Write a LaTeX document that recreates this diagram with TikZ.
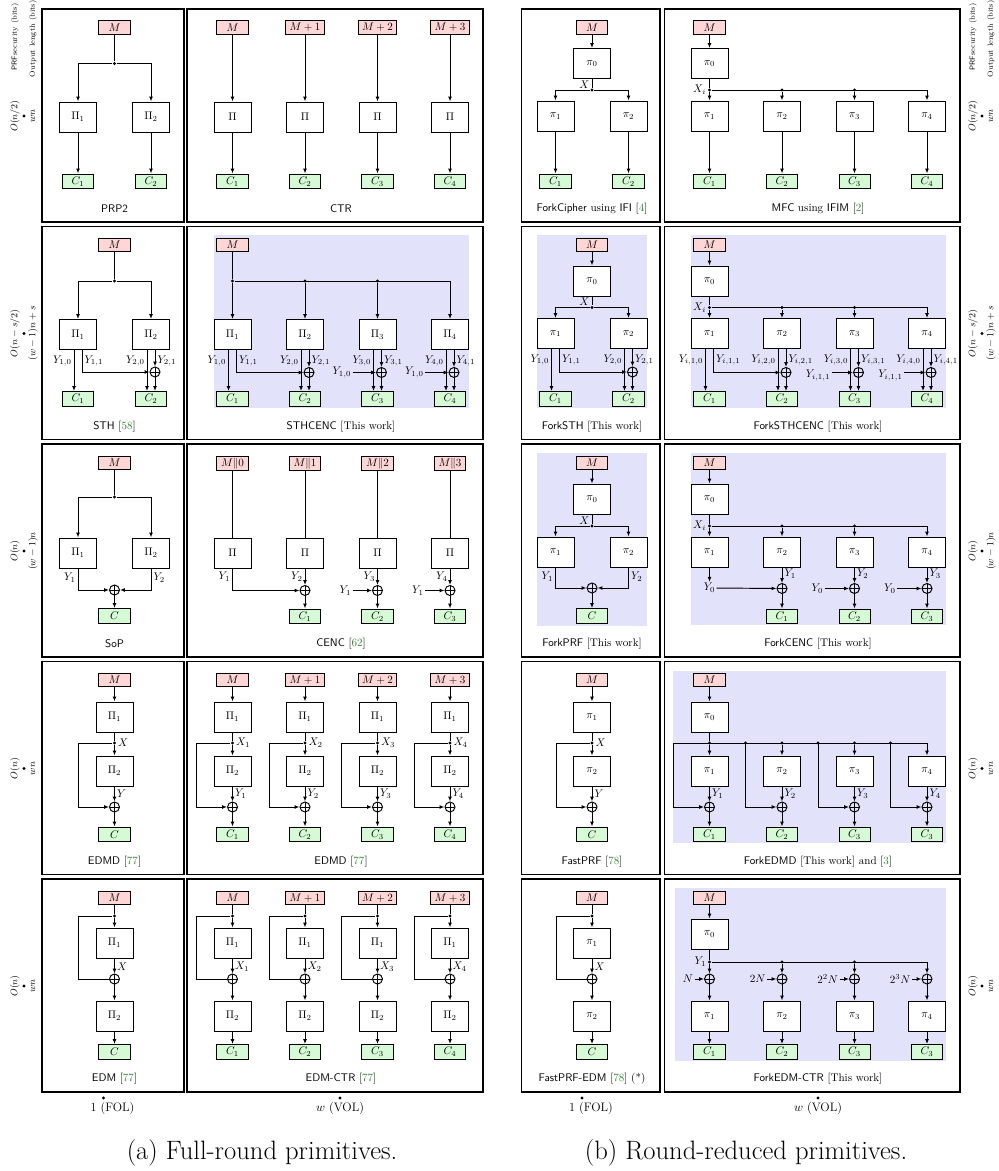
\RequirePackage{fix-cm}
\documentclass[tikz,border=0pt]{standalone}
\usepackage{amsmath, amssymb}
\usepackage{xcolor}
\usepackage{tikz}
\usetikzlibrary{arrows.meta, calc, positioning}
\definecolor{msgRed}{RGB}{255,214,214}
\definecolor{ctGreen}{RGB}{214,250,214}
\definecolor{shadeBlue}{RGB}{226,226,250}
\definecolor{citeGreen}{RGB}{50,135,50}
\newcommand{\diagfont}{\fontsize{10.4}{12.4}\selectfont}
\newcommand{\citeref}[1]{[\textcolor{citeGreen}{#1}]}
\tikzset{
msg/.style={draw, fill=msgRed, minimum width=29.2pt, minimum height=12.8pt, inner xsep=3.6pt, inner ysep=1.2pt, font=\diagfont},
perm/.style={draw, fill=white, minimum width=34.8pt, minimum height=28.2pt, font=\diagfont},
ct/.style={draw, fill=ctGreen, minimum width=29.2pt, minimum height=14pt, inner sep=1.2pt, font=\diagfont},
xr/.style={circle, draw, minimum size=9.4pt, inner sep=0pt, path picture={\draw (path picture bounding box.north) -- (path picture bounding box.south) (path picture bounding box.west) -- (path picture bounding box.east);}},
jn/.style={circle, fill, inner sep=0pt, minimum size=3.2pt},
lbl/.style={font=\diagfont, inner sep=1pt},
captxt/.style={font=\diagfont},
panel/.style={draw, line width=1.2pt},
side/.style={rotate=90, font=\fontsize{9}{10}\selectfont, inner sep=1pt},
hdr/.style={rotate=90, font=\fontsize{7}{8}\selectfont, inner sep=1pt, anchor=east},
}

\begin{document}
\begin{tikzpicture}[x=0.94pt, y=-0.94pt, line width=0.9pt, >={Latex[length=4.6pt,width=3.6pt]}]
\useasboundingbox (0,0) rectangle (999,1171);

% panels
\foreach \ry in {9,226.5,444,661.5,879}{
\draw[panel] (42,\ry) rectangle (184,\ry+213);
\draw[panel] (187,\ry) rectangle (483,\ry+213);
\draw[panel] (521.5,\ry) rectangle (660,\ry+213);
\draw[panel] (664.5,\ry) rectangle (960,\ry+213);
}

% new constructions
\fill[shadeBlue] (214,235) rectangle (469,408);
\fill[shadeBlue] (537,235) rectangle (647,408);
\fill[shadeBlue] (691,235) rectangle (946,408);
\fill[shadeBlue] (537,453) rectangle (647,626);
\fill[shadeBlue] (691,453) rectangle (946,625);
\fill[shadeBlue] (673,671) rectangle (946,843);
\fill[shadeBlue] (675,888) rectangle (946,1061);

% axes
\foreach \ry/\sec/\len [count=\r] in {116/{$O(n/2)$}/{$wn$}, 333.5/{$O(n-s/2)$}/{$(w-1)n+s$}, 551/{$O(n)$}/{$(w-1)n$}, 768.5/{$O(n)$}/{$wn$}, 986/{$O(n)$}/{$wn$}}{
\node[jn] (tkL\r) at (24,\ry) {};
\node[side] (secL\r) at (15,\ry) {\sec};
\node[side] (lenL\r) at (33,\ry) {\len};
\node[jn] (tkR\r) at (982,\ry) {};
\node[side] (secR\r) at (973,\ry) {\sec};
\node[side] (lenR\r) at (991,\ry) {\len};
}
\node[hdr] (hdL1) at (15,2) {\textsf{PRF}security (bits)};
\node[hdr] (hdL2) at (33,-1) {Output length (bits)};
\node[hdr] (hdR1) at (973,2) {\textsf{PRF}security (bits)};
\node[hdr] (hdR2) at (991,-1) {Output length (bits)};
\foreach \x/\d/\txt [count=\i] in {112.5/103.5/{1 (FOL)}, 340/340/{$w$ (VOL)}, 591/582/{1 (FOL)}, 818/818/{$w$ (VOL)}}{
\node[jn] (tkB\i) at (\d,1098) {};
\node[font=\fontsize{11.5}{13}\selectfont] (olB\i) at (\x,1108.5) {\txt};
}
\node[font=\fontsize{25}{29}\selectfont] (capA) at (262,1153) {(a) Full-round primitives.};
\node[font=\fontsize{25}{29}\selectfont] (capB) at (746,1153) {(b) Round-reduced primitives.};

% ---- row 1
\node[msg] (prp-m) at (114.5,27.5) {$M$};
\node[jn] (prp-j) at (114.5,63.5) {};
\node[perm] (prp-p1) at (78,117) {$\Pi_1$};
\node[perm] (prp-p2) at (151,117) {$\Pi_2$};
\node[ct] (prp-c1) at (78,181.5) {$C_1$};
\node[ct] (prp-c2) at (151,181.5) {$C_2$};
\node[captxt] (prp-t) at (114.5,209) {\textsf{PRP2}};
\draw (prp-m) -- (prp-j);
\draw[->] (prp-j) -| (prp-p1);
\draw[->] (prp-j) -| (prp-p2);
\draw[->] (prp-p1) -- (prp-c1);
\draw[->] (prp-p2) -- (prp-c2);

\foreach \x/\m [count=\i] in {232.5/M, 305/M+1, 377.5/M+2, 450/M+3}{
\node[msg] (ctr-m\i) at (\x,27.5) {$\m$};
\node[perm] (ctr-p\i) at (\x,117) {$\Pi$};
\node[ct] (ctr-c\i) at (\x,181.5) {$C_\i$};
\draw[->] (ctr-m\i) -- (ctr-p\i);
\draw[->] (ctr-p\i) -- (ctr-c\i);
}
\node[captxt] (ctr-t) at (341,209) {\textsf{CTR}};

\node[msg] (fc-m) at (592,27.5) {$M$};
\node[perm] (fc-p0) at (592,63.5) {$\pi_0$};
\node[jn] (fc-j) at (592,90) {};
\node[lbl, anchor=south east] (fc-x) at ($(fc-j)+(-1,0)$) {$X$};
\node[perm] (fc-p1) at (555.5,116) {$\pi_1$};
\node[perm] (fc-p2) at (628.5,116) {$\pi_2$};
\node[ct] (fc-c1) at (555.5,181.5) {$C_1$};
\node[ct] (fc-c2) at (628.5,181.5) {$C_2$};
\node[captxt] (fc-t) at (592,209) {\textsf{ForkCipher} using \textsf{IFI} \citeref{4}};
\draw[->] (fc-m) -- (fc-p0);
\draw (fc-p0) -- (fc-j);
\draw[->] (fc-j) -| (fc-p1);
\draw[->] (fc-j) -| (fc-p2);
\draw[->] (fc-p1) -- (fc-c1);
\draw[->] (fc-p2) -- (fc-c2);

\node[msg] (mfc-m) at (709.5,27.5) {$M$};
\node[perm] (mfc-p0) at (709.5,63.5) {$\pi_0$};
\foreach \x [count=\i] in {709.5,782,854.5,927}{
\coordinate (mfc-b\i) at (\x,90);
\node[perm] (mfc-p\i) at (\x,116) {$\pi_\i$};
\node[ct] (mfc-c\i) at (\x,181.5) {$C_\i$};
\draw[->] (mfc-p\i) -- (mfc-c\i);
}
\foreach \i in {1,2,3}{
\node[jn] (mfc-j\i) at (mfc-b\i) {};
\draw[->] (mfc-j\i) -- (mfc-p\i);
}
\node[lbl, anchor=east] (mfc-x) at ($(mfc-b1)+(-2,0)$) {$X_i$};
\node[captxt] (mfc-t) at (818,209) {\textsf{MFC} using \textsf{IFIM} \citeref{2}};
\draw[->] (mfc-m) -- (mfc-p0);
\draw (mfc-p0) -- (mfc-j1);
\draw[->] (mfc-j1) -| (mfc-p4);

% ---- row 2
\node[msg] (sth-m) at (114.5,245) {$M$};
\node[jn] (sth-j) at (114.5,281) {};
\node[perm] (sth-p1) at (78,334.5) {$\Pi_1$};
\node[perm] (sth-p2) at (151,334.5) {$\Pi_2$};
\node[xr] (sth-x2) at (155,372) {};
\node[ct] (sth-c1) at (78,399) {$C_1$};
\node[ct] (sth-c2) at (151,399) {$C_2$};
\node[lbl, anchor=east] (sth-y10) at ($(sth-p1.south)+(-5,11)$) {$Y_{1,0}$};
\node[lbl, anchor=west] (sth-y11) at ($(sth-p1.south)+(5,11)$) {$Y_{1,1}$};
\node[lbl, anchor=east] (sth-y20) at ($(sth-p2.south)+(-5,11)$) {$Y_{2,0}$};
\node[lbl, anchor=west] (sth-y21) at ($(sth-p2.south)+(5,11)$) {$Y_{2,1}$};
\node[captxt] (sth-t) at (114.5,426.5) {\textsf{STH} \citeref{58}};
\draw (sth-m) -- (sth-j);
\draw[->] (sth-j) -| (sth-p1);
\draw[->] (sth-j) -| (sth-p2);
\draw[->] ($(sth-p1.south)+(-4,0)$) -- ($(sth-c1.north)+(-4,0)$);
\draw[->] ($(sth-p1.south)+(4,0)$) |- (sth-x2);
\draw[->] ($(sth-p2.south)+(-4,0)$) -- ($(sth-c2.north)+(-4,0)$);
\draw[->] ($(sth-p2.south)+(4,0)$) -- (sth-x2);
\draw[->] (sth-x2) -- ($(sth-c2.north)+(4,0)$);

\node[msg] (sthc-m) at (232.5,245) {$M$};
\foreach \x [count=\i] in {232.5,305,377.5,450}{
\coordinate (sthc-b\i) at (\x,281);
\node[perm] (sthc-p\i) at (\x,334.5) {$\Pi_\i$};
\node[ct] (sthc-c\i) at (\x,399) {$C_\i$};
\node[lbl, anchor=east] (sthc-ya\i) at ($(sthc-p\i.south)+(-5,11)$) {$Y_{\i,0}$};
\node[lbl, anchor=west] (sthc-yb\i) at ($(sthc-p\i.south)+(5,11)$) {$Y_{\i,1}$};
\draw[->] ($(sthc-p\i.south)+(-4,0)$) -- ($(sthc-c\i.north)+(-4,0)$);
}
\foreach \i in {1,2,3}{
\node[jn] (sthc-j\i) at (sthc-b\i) {};
\draw[->] (sthc-j\i) -- (sthc-p\i);
}
\foreach \i in {2,3,4}{
\node[xr] (sthc-x\i) at ($(sthc-p\i.south)+(4,22.5)$) {};
\draw[->] ($(sthc-p\i.south)+(4,0)$) -- (sthc-x\i);
\draw[->] (sthc-x\i) -- ($(sthc-c\i.north)+(4,0)$);
}
\foreach \i in {3,4}{
\node[lbl, anchor=east] (sthc-in\i) at ($(sthc-x\i)+(-29,0)$) {$Y_{1,0}$};
\draw[->] (sthc-in\i) -- (sthc-x\i);
}
\draw (sthc-m) -- (sthc-j1);
\draw[->] (sthc-j1) -| (sthc-p4);
\draw[->] ($(sthc-p1.south)+(4,0)$) |- (sthc-x2);
\node[captxt] (sthc-t) at (341,426.5) {\textsf{STHCENC} [This work]};

\node[msg] (fsth-m) at (592,245) {$M$};
\node[perm] (fsth-p0) at (592,281) {$\pi_0$};
\node[jn] (fsth-j) at (592,307.5) {};
\node[lbl, anchor=south east] (fsth-x) at ($(fsth-j)+(-1,0)$) {$X$};
\node[perm] (fsth-p1) at (555.5,333.5) {$\pi_1$};
\node[perm] (fsth-p2) at (628.5,333.5) {$\pi_2$};
\node[xr] (fsth-x2) at (632.5,372) {};
\node[ct] (fsth-c1) at (555.5,399) {$C_1$};
\node[ct] (fsth-c2) at (628.5,399) {$C_2$};
\node[lbl, anchor=east] (fsth-y10) at ($(fsth-p1.south)+(-5,11)$) {$Y_{1,0}$};
\node[lbl, anchor=west] (fsth-y11) at ($(fsth-p1.south)+(5,11)$) {$Y_{1,1}$};
\node[lbl, anchor=east] (fsth-y20) at ($(fsth-p2.south)+(-5,11)$) {$Y_{2,0}$};
\node[lbl, anchor=west] (fsth-y21) at ($(fsth-p2.south)+(5,11)$) {$Y_{2,1}$};
\node[captxt] (fsth-t) at (592,426.5) {\textsf{ForkSTH} [This work]};
\draw[->] (fsth-m) -- (fsth-p0);
\draw (fsth-p0) -- (fsth-j);
\draw[->] (fsth-j) -| (fsth-p1);
\draw[->] (fsth-j) -| (fsth-p2);
\draw[->] ($(fsth-p1.south)+(-4,0)$) -- ($(fsth-c1.north)+(-4,0)$);
\draw[->] ($(fsth-p1.south)+(4,0)$) |- (fsth-x2);
\draw[->] ($(fsth-p2.south)+(-4,0)$) -- ($(fsth-c2.north)+(-4,0)$);
\draw[->] ($(fsth-p2.south)+(4,0)$) -- (fsth-x2);
\draw[->] (fsth-x2) -- ($(fsth-c2.north)+(4,0)$);

\node[msg] (fsthc-m) at (709.5,245) {$M$};
\node[perm] (fsthc-p0) at (709.5,281) {$\pi_0$};
\foreach \x [count=\i] in {709.5,782,854.5,927}{
\coordinate (fsthc-b\i) at (\x,307.5);
\node[perm] (fsthc-p\i) at (\x,333.5) {$\pi_\i$};
\node[ct] (fsthc-c\i) at (\x,399) {$C_\i$};
\node[lbl, anchor=east] (fsthc-ya\i) at ($(fsthc-p\i.south)+(-5,11)$) {$Y_{i,\i,0}$};
\node[lbl, anchor=west] (fsthc-yb\i) at ($(fsthc-p\i.south)+(5,11)$) {$Y_{i,\i,1}$};
\draw[->] ($(fsthc-p\i.south)+(-4,0)$) -- ($(fsthc-c\i.north)+(-4,0)$);
}
\foreach \i in {1,2,3}{
\node[jn] (fsthc-j\i) at (fsthc-b\i) {};
\draw[->] (fsthc-j\i) -- (fsthc-p\i);
}
\foreach \i in {2,3,4}{
\node[xr] (fsthc-x\i) at ($(fsthc-p\i.south)+(4,23.5)$) {};
\draw[->] ($(fsthc-p\i.south)+(4,0)$) -- (fsthc-x\i);
\draw[->] (fsthc-x\i) -- ($(fsthc-c\i.north)+(4,0)$);
}
\foreach \i in {3,4}{
\node[lbl, anchor=east] (fsthc-in\i) at ($(fsthc-x\i)+(-27,3)$) {$Y_{i,1,1}$};
\draw[->] (fsthc-in\i.east |- fsthc-x\i) -- (fsthc-x\i);
}
\node[lbl, anchor=east] (fsthc-x) at ($(fsthc-b1)+(-2,0)$) {$X_i$};
\draw[->] (fsthc-m) -- (fsthc-p0);
\draw (fsthc-p0) -- (fsthc-j1);
\draw[->] (fsthc-j1) -| (fsthc-p4);
\draw[->] ($(fsthc-p1.south)+(4,0)$) |- (fsthc-x2);
\node[captxt] (fsthc-t) at (818,426.5) {\textsf{ForkSTHCENC} [This work]};

% ---- row 3
\node[msg] (sop-m) at (114.5,463) {$M$};
\node[jn] (sop-j) at (114.5,497) {};
\node[perm] (sop-p1) at (78,553) {$\Pi_1$};
\node[perm] (sop-p2) at (151,553) {$\Pi_2$};
\node[xr] (sop-x) at (114.5,590) {};
\node[ct] (sop-c) at (114.5,616) {$C$};
\node[lbl, anchor=east] (sop-y1) at ($(sop-p1.south)+(-1,9)$) {$Y_1$};
\node[lbl, anchor=west] (sop-y2) at ($(sop-p2.south)+(1,9)$) {$Y_2$};
\node[captxt] (sop-t) at (114.5,644) {\textsf{SoP}};
\draw (sop-m) -- (sop-j);
\draw[->] (sop-j) -| (sop-p1);
\draw[->] (sop-j) -| (sop-p2);
\draw[->] (sop-p1) |- (sop-x);
\draw[->] (sop-p2) |- (sop-x);
\draw[->] (sop-x) -- (sop-c);

\foreach \x/\k [count=\i] in {232.5/0, 305/1, 377.5/2, 450/3}{
\node[msg] (cenc-m\i) at (\x,463.5) {$M\|\k$};
\node[perm] (cenc-p\i) at (\x,553) {$\Pi$};
\node[lbl, anchor=east] (cenc-y\i) at ($(cenc-p\i.south)+(-1,8)$) {$Y_\i$};
\draw (cenc-m\i) -- (cenc-p\i);
}
\foreach \i/\j in {2/1,3/2,4/3}{
\node[xr] (cenc-x\i) at ($(cenc-p\i.south)+(0,22)$) {};
\node[ct] (cenc-c\j) at ($(cenc-p\i.south)+(0,48)$) {$C_\j$};
\draw[->] (cenc-p\i) -- (cenc-x\i);
\draw[->] (cenc-x\i) -- (cenc-c\j);
}
\foreach \i in {3,4}{
\node[lbl, anchor=east] (cenc-in\i) at ($(cenc-x\i)+(-25,0)$) {$Y_1$};
\draw[->] (cenc-in\i) -- (cenc-x\i);
}
\draw[->] (cenc-p1) |- (cenc-x2);
\node[captxt] (cenc-t) at (341,644) {\textsf{CENC} \citeref{62}};

\node[msg] (fprf-m) at (592,463) {$M$};
\node[perm] (fprf-p0) at (592,499) {$\pi_0$};
\node[jn] (fprf-j) at (592,526) {};
\node[lbl, anchor=south east] (fprf-x) at ($(fprf-j)+(-1,0)$) {$X$};
\node[perm] (fprf-p1) at (555.5,552) {$\pi_1$};
\node[perm] (fprf-p2) at (628.5,552) {$\pi_2$};
\node[xr] (fprf-xo) at (592,588) {};
\node[ct] (fprf-c) at (592,616) {$C$};
\node[lbl, anchor=east] (fprf-y1) at ($(fprf-p1.south)+(-1,9)$) {$Y_1$};
\node[lbl, anchor=west] (fprf-y2) at ($(fprf-p2.south)+(1,9)$) {$Y_2$};
\node[captxt] (fprf-t) at (592,644) {\textsf{ForkPRF} [This work]};
\draw[->] (fprf-m) -- (fprf-p0);
\draw (fprf-p0) -- (fprf-j);
\draw[->] (fprf-j) -| (fprf-p1);
\draw[->] (fprf-j) -| (fprf-p2);
\draw[->] (fprf-p1) |- (fprf-xo);
\draw[->] (fprf-p2) |- (fprf-xo);
\draw[->] (fprf-xo) -- (fprf-c);

\node[msg] (fcenc-m) at (709.5,463) {$M$};
\node[perm] (fcenc-p0) at (709.5,499) {$\pi_0$};
\foreach \x [count=\i] in {709.5,782,854.5,927}{
\coordinate (fcenc-b\i) at (\x,526);
\node[perm] (fcenc-p\i) at (\x,552) {$\pi_\i$};
}
\foreach \i in {1,2,3}{
\node[jn] (fcenc-j\i) at (fcenc-b\i) {};
\draw[->] (fcenc-j\i) -- (fcenc-p\i);
}
\node[lbl, anchor=east] (fcenc-xl) at ($(fcenc-b1)+(-2,0)$) {$X_i$};
\draw[->] (fcenc-m) -- (fcenc-p0);
\draw (fcenc-p0) -- (fcenc-j1);
\draw[->] (fcenc-j1) -| (fcenc-p4);
\node[lbl] (fcenc-y0) at (709.5,588) {$Y_0$};
\draw[->] (fcenc-p1) -- (fcenc-y0);
\foreach \i/\j in {2/1,3/2,4/3}{
\node[xr] (fcenc-x\i) at ($(fcenc-p\i.south)+(0,21)$) {};
\node[ct] (fcenc-c\j) at ($(fcenc-p\i.south)+(0,49)$) {$C_\j$};
\node[lbl, anchor=west] (fcenc-y\i) at ($(fcenc-p\i.south)+(1,6)$) {$Y_\j$};
\draw[->] (fcenc-p\i) -- (fcenc-x\i);
\draw[->] (fcenc-x\i) -- (fcenc-c\j);
}
\draw[->] (fcenc-y0) -- (fcenc-x2);
\foreach \i in {3,4}{
\node[lbl, anchor=east] (fcenc-in\i) at ($(fcenc-x\i)+(-30,0)$) {$Y_0$};
\draw[->] (fcenc-in\i) -- (fcenc-x\i);
}
\node[captxt] (fcenc-t) at (818,644) {\textsf{ForkCENC} [This work]};

% ---- row 4
\node[msg] (edmd-m) at (114.5,680) {$M$};
\node[perm] (edmd-p1) at (114.5,717) {$\Pi_1$};
\node[jn] (edmd-j) at (114.5,743) {};
\coordinate (edmd-l) at (78.5,743);
\node[perm] (edmd-p2) at (114.5,771) {$\Pi_2$};
\node[xr] (edmd-x) at (114.5,807) {};
\node[ct] (edmd-c) at (114.5,834.5) {$C$};
\node[lbl, anchor=west] (edmd-xl) at ($(edmd-j)+(2,0)$) {$X$};
\node[lbl, anchor=west] (edmd-yl) at ($(edmd-p2.south)+(1,7)$) {$Y$};
\node[captxt] (edmd-t) at (114.5,861.5) {\textsf{EDMD} \citeref{77}};
\draw[->] (edmd-m) -- (edmd-p1);
\draw (edmd-p1) -- (edmd-j);
\draw[->] (edmd-j) -- (edmd-p2);
\draw[->] (edmd-j) -- (edmd-l) |- (edmd-x);
\draw[->] (edmd-p2) -- (edmd-x);
\draw[->] (edmd-x) -- (edmd-c);

\foreach \x/\m [count=\i] in {232.5/M, 305/M+1, 377.5/M+2, 450/M+3}{
\node[msg] (edmdc-m\i) at (\x,680) {$\m$};
\node[perm] (edmdc-pa\i) at (\x,717) {$\Pi_1$};
\node[jn] (edmdc-j\i) at (\x,743) {};
\coordinate (edmdc-l\i) at (\x-36,743);
\node[perm] (edmdc-pb\i) at (\x,771) {$\Pi_2$};
\node[xr] (edmdc-x\i) at (\x,807) {};
\node[ct] (edmdc-c\i) at (\x,834.5) {$C_\i$};
\node[lbl, anchor=west] (edmdc-xl\i) at ($(edmdc-j\i)+(2,0)$) {$X_\i$};
\node[lbl, anchor=west] (edmdc-yl\i) at ($(edmdc-pb\i.south)+(1,7)$) {$Y_\i$};
\draw[->] (edmdc-m\i) -- (edmdc-pa\i);
\draw (edmdc-pa\i) -- (edmdc-j\i);
\draw[->] (edmdc-j\i) -- (edmdc-pb\i);
\draw[->] (edmdc-j\i) -- (edmdc-l\i) |- (edmdc-x\i);
\draw[->] (edmdc-pb\i) -- (edmdc-x\i);
\draw[->] (edmdc-x\i) -- (edmdc-c\i);
}
\node[captxt] (edmdc-t) at (341,861.5) {\textsf{EDMD} \citeref{77}};

\node[msg] (fprf4-m) at (592,680) {$M$};
\node[perm] (fprf4-p1) at (592,717) {$\pi_1$};
\node[jn] (fprf4-j) at (592,743) {};
\coordinate (fprf4-l) at (556,743);
\node[perm] (fprf4-p2) at (592,771) {$\pi_2$};
\node[xr] (fprf4-x) at (592,807) {};
\node[ct] (fprf4-c) at (592,834.5) {$C$};
\node[lbl, anchor=west] (fprf4-xl) at ($(fprf4-j)+(2,0)$) {$X$};
\node[lbl, anchor=west] (fprf4-yl) at ($(fprf4-p2.south)+(1,7)$) {$Y$};
\node[captxt] (fprf4-t) at (592,861.5) {\textsf{FastPRF} \citeref{78}};
\draw[->] (fprf4-m) -- (fprf4-p1);
\draw (fprf4-p1) -- (fprf4-j);
\draw[->] (fprf4-j) -- (fprf4-p2);
\draw[->] (fprf4-j) -- (fprf4-l) |- (fprf4-x);
\draw[->] (fprf4-p2) -- (fprf4-x);
\draw[->] (fprf4-x) -- (fprf4-c);

\node[msg] (fedmd-m) at (709.5,680) {$M$};
\node[perm] (fedmd-p0) at (709.5,717) {$\pi_0$};
\foreach \x/\k [count=\i] in {709.5/1, 782/2, 854.5/3, 927/3}{
\coordinate (fedmd-b\i) at (\x,743);
\coordinate (fedmd-l\i) at (\x-36.5,743);
\node[perm] (fedmd-p\i) at (\x,771) {$\pi_\i$};
\node[xr] (fedmd-x\i) at (\x,807) {};
\node[ct] (fedmd-c\i) at (\x,834.5) {$C_\k$};
\node[lbl, anchor=west] (fedmd-y\i) at ($(fedmd-p\i.south)+(1,7)$) {$Y_\i$};
\draw[->] (fedmd-p\i) -- (fedmd-x\i);
\draw[->] (fedmd-x\i) -- (fedmd-c\i);
\draw[->] (fedmd-l\i) |- (fedmd-x\i);
}
\foreach \i in {1,2,3}{
\node[jn] (fedmd-j\i) at (fedmd-b\i) {};
\draw[->] (fedmd-j\i) -- (fedmd-p\i);
}
\foreach \i in {2,3,4}{
\node[jn] (fedmd-k\i) at (fedmd-l\i) {};
}
\draw[->] (fedmd-m) -- (fedmd-p0);
\draw (fedmd-p0) -- (fedmd-j1);
\draw[->] (fedmd-l1) -| (fedmd-p4);
\node[captxt] (fedmd-t) at (818,861.5) {\textsf{ForkEDMD} [This work] and \citeref{3}};

% ---- row 5
\node[msg] (edm-m) at (114.5,898) {$M$};
\node[jn] (edm-j) at (114.5,916) {};
\coordinate (edm-l) at (78.5,916);
\node[perm] (edm-p1) at (114.5,943) {$\Pi_1$};
\node[xr] (edm-x) at (114.5,979) {};
\node[perm] (edm-p2) at (114.5,1016) {$\Pi_2$};
\node[ct] (edm-c) at (114.5,1052) {$C$};
\node[lbl, anchor=west] (edm-xl) at ($(edm-p1.south)+(1,8)$) {$X$};
\node[captxt] (edm-t) at (114.5,1079) {\textsf{EDM} \citeref{77}};
\draw (edm-m) -- (edm-j);
\draw[->] (edm-j) -- (edm-p1);
\draw (edm-j) -- (edm-l) |- (edm-x);
\draw[->] (edm-p1) -- (edm-x);
\draw[->] (edm-x) -- (edm-p2);
\draw[->] (edm-p2) -- (edm-c);

\foreach \x/\m [count=\i] in {232.5/M, 305/M+1, 377.5/M+2, 450/M+3}{
\node[msg] (edmc-m\i) at (\x,898) {$\m$};
\node[jn] (edmc-j\i) at (\x,916) {};
\coordinate (edmc-l\i) at (\x-36,916);
\node[perm] (edmc-pa\i) at (\x,943) {$\Pi_1$};
\node[xr] (edmc-x\i) at (\x,979) {};
\node[perm] (edmc-pb\i) at (\x,1016) {$\Pi_2$};
\node[ct] (edmc-c\i) at (\x,1052) {$C_\i$};
\node[lbl, anchor=west] (edmc-xl\i) at ($(edmc-pa\i.south)+(1,8)$) {$X_\i$};
\draw (edmc-m\i) -- (edmc-j\i);
\draw[->] (edmc-j\i) -- (edmc-pa\i);
\draw (edmc-j\i) -- (edmc-l\i) |- (edmc-x\i);
\draw[->] (edmc-pa\i) -- (edmc-x\i);
\draw[->] (edmc-x\i) -- (edmc-pb\i);
\draw[->] (edmc-pb\i) -- (edmc-c\i);
}
\node[captxt] (edmc-t) at (341,1079) {\textsf{EDM-CTR} \citeref{77}};

\node[msg] (fpe-m) at (592,898) {$M$};
\node[jn] (fpe-j) at (592,916) {};
\coordinate (fpe-l) at (556,916);
\node[perm] (fpe-p1) at (592,943) {$\pi_1$};
\node[xr] (fpe-x) at (592,979) {};
\node[perm] (fpe-p2) at (592,1016) {$\pi_2$};
\node[ct] (fpe-c) at (592,1052) {$C$};
\node[lbl, anchor=west] (fpe-xl) at ($(fpe-p1.south)+(1,8)$) {$X$};
\node[captxt] (fpe-t) at (592,1079) {\textsf{FastPRF-EDM} \citeref{78} (*)};
\draw (fpe-m) -- (fpe-j);
\draw[->] (fpe-j) -- (fpe-p1);
\draw (fpe-j) -- (fpe-l) |- (fpe-x);
\draw[->] (fpe-p1) -- (fpe-x);
\draw[->] (fpe-x) -- (fpe-p2);
\draw[->] (fpe-p2) -- (fpe-c);

\node[msg] (fec-m) at (709.5,898) {$M$};
\node[perm] (fec-p0) at (709.5,934) {$\pi_0$};
\foreach \x/\n/\k [count=\i] in {709.5/N/1, 782/2N/2, 854.5/2^2N/3, 927/2^3N/3}{
\coordinate (fec-b\i) at (\x,962);
\node[xr] (fec-x\i) at (\x,979) {};
\node[lbl, anchor=east] (fec-n\i) at (\x-15,979) {$\n$};
\node[perm] (fec-p\i) at (\x,1016) {$\pi_\i$};
\node[ct] (fec-c\i) at (\x,1052) {$C_\k$};
\draw[->] (fec-n\i) -- (fec-x\i);
\draw[->] (fec-x\i) -- (fec-p\i);
\draw[->] (fec-p\i) -- (fec-c\i);
}
\foreach \i in {1,2,3}{
\node[jn] (fec-j\i) at (fec-b\i) {};
\draw[->] (fec-j\i) -- (fec-x\i);
}
\node[lbl, anchor=east] (fec-y) at ($(fec-b1)+(-2,0)$) {$Y_1$};
\draw[->] (fec-m) -- (fec-p0);
\draw (fec-p0) -- (fec-j1);
\draw[->] (fec-j1) -| (fec-x4);
\node[captxt] (fec-t) at (818,1079) {\textsf{ForkEDM-CTR} [This work]};
\end{tikzpicture}
\end{document}
